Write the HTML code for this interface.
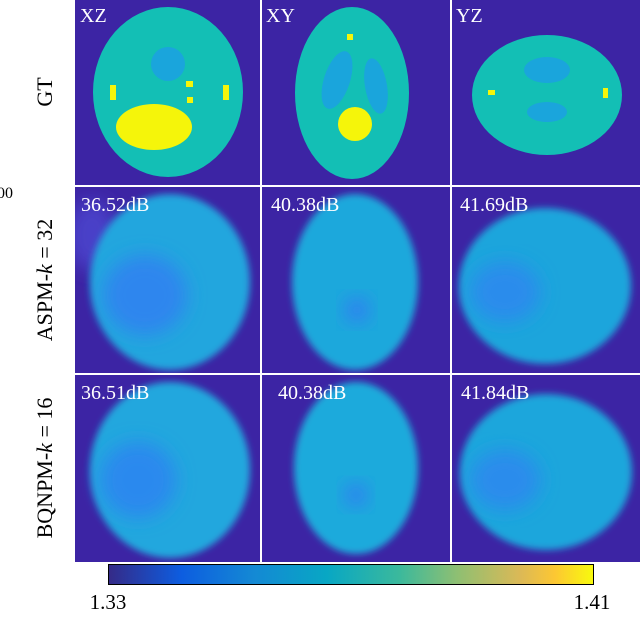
<!DOCTYPE html>
<html><head><meta charset="utf-8"><style>
html,body{margin:0;padding:0;background:#fff;}
svg, svg text{font-family:"Liberation Serif","DejaVu Serif",serif;}
</style></head><body>
<svg width="640" height="612" viewBox="0 0 640 612" font-family="Liberation Serif, serif">
<defs>
<filter id="b1" x="-30%" y="-30%" width="160%" height="160%"><feGaussianBlur stdDeviation="3.5"/></filter>
<filter id="b2" x="-30%" y="-30%" width="160%" height="160%"><feGaussianBlur stdDeviation="9"/></filter>
<linearGradient id="parula" x1="0" x2="1" y1="0" y2="0">
<stop offset="0" stop-color="#352a87"/><stop offset="0.15" stop-color="#0d5de0"/>
<stop offset="0.3" stop-color="#1489d4"/><stop offset="0.45" stop-color="#08a7c4"/>
<stop offset="0.6" stop-color="#3bb99c"/><stop offset="0.72" stop-color="#8fbf72"/>
<stop offset="0.85" stop-color="#dcb956"/><stop offset="0.92" stop-color="#fcc733"/>
<stop offset="1" stop-color="#f8fa0d"/></linearGradient>
<clipPath id="c1"><rect x="75" y="187" width="185" height="186"/></clipPath>
<clipPath id="c2"><rect x="262" y="187" width="188" height="186"/></clipPath>
<clipPath id="c3"><rect x="452" y="187" width="188" height="186"/></clipPath>
<clipPath id="c4"><rect x="75" y="375" width="185" height="187"/></clipPath>
<clipPath id="c5"><rect x="262" y="375" width="188" height="187"/></clipPath>
<clipPath id="c6"><rect x="452" y="375" width="188" height="187"/></clipPath>
</defs>
<rect x="75" y="0" width="565" height="562" fill="#3c24a4"/>
<g>
<ellipse cx="168" cy="92" rx="75" ry="85" fill="#13bfb5"/>
<circle cx="168" cy="64" r="17" fill="#1aa5dc"/>
<ellipse cx="154" cy="127" rx="38" ry="23" fill="#f5f50a"/>
<rect x="110" y="85" width="6" height="15" fill="#f5f50a"/><rect x="223" y="85" width="6" height="15" fill="#f5f50a"/>
<rect x="186" y="81" width="7" height="6" fill="#f5f50a"/><rect x="187" y="97" width="6" height="6" fill="#f5f50a"/>
</g>
<g>
<ellipse cx="352" cy="93" rx="57" ry="86" fill="#13bfb5"/>
<ellipse cx="337" cy="80" rx="13" ry="30" transform="rotate(18 337 80)" fill="#1aa5dc"/>
<ellipse cx="376" cy="86" rx="11" ry="28" transform="rotate(-10 376 86)" fill="#1aa5dc"/>
<circle cx="355" cy="124" r="17" fill="#f5f50a"/>
<rect x="347" y="34" width="6" height="6" fill="#f5f50a"/>
</g>
<g>
<ellipse cx="547" cy="95" rx="75" ry="60" fill="#13bfb5"/>
<ellipse cx="547" cy="70" rx="23" ry="13" fill="#1aa5dc"/>
<ellipse cx="547" cy="112" rx="20" ry="10" fill="#1aa5dc"/>
<rect x="488" y="90" width="7" height="5" fill="#f5f50a"/><rect x="603" y="88" width="5" height="10" fill="#f5f50a"/>
</g>
<g clip-path="url(#c1)">
<g filter="url(#b2)"><ellipse cx="92" cy="235" rx="25" ry="35" fill="#4a40c8"/></g>
<g filter="url(#b1)"><ellipse cx="170" cy="282" rx="80" ry="88" fill="#22a6de"/></g>
<g filter="url(#b2)"><ellipse cx="145" cy="295" rx="42" ry="40" fill="#2d86ee"/></g>
</g>
<g clip-path="url(#c2)">
<g filter="url(#b1)"><ellipse cx="355" cy="282" rx="63" ry="88" fill="#1ea8dc"/></g>
<g filter="url(#b2)"><circle cx="357" cy="310" r="13" fill="#2f82f0"/></g>
</g>
<g clip-path="url(#c3)">
<g filter="url(#b1)"><ellipse cx="545" cy="286" rx="86" ry="78" fill="#1ea5dc"/></g>
<g filter="url(#b2)"><ellipse cx="505" cy="292" rx="35" ry="30" fill="#2a8cec"/></g>
</g>
<g clip-path="url(#c4)">
<g filter="url(#b1)"><ellipse cx="170" cy="470" rx="80" ry="88" fill="#22a7de"/></g>
<g filter="url(#b2)"><ellipse cx="138" cy="480" rx="38" ry="38" fill="#2b89ee"/></g>
</g>
<g clip-path="url(#c5)">
<g filter="url(#b1)"><ellipse cx="356" cy="468" rx="62" ry="86" fill="#1eaadc"/></g>
<g filter="url(#b2)"><circle cx="356" cy="495" r="12" fill="#2f82f0"/></g>
</g>
<g clip-path="url(#c6)">
<g filter="url(#b1)"><ellipse cx="546" cy="472" rx="86" ry="78" fill="#1fa6dc"/></g>
<g filter="url(#b2)"><ellipse cx="505" cy="480" rx="35" ry="30" fill="#2a8cec"/></g>
</g>
<g fill="#ffffff">
<rect x="260" y="0" width="2" height="562"/><rect x="450" y="0" width="2" height="562"/>
<rect x="75" y="185" width="565" height="2"/><rect x="75" y="373" width="565" height="2"/>
</g>
<g fill="#fff" font-size="20" font-family="Liberation Serif, serif">
<text x="80" y="22">XZ</text><text x="266" y="22">XY</text><text x="456" y="22">YZ</text>
<text x="81" y="211">36.52dB</text>
<text x="271" y="211">40.38dB</text>
<text x="460" y="211">41.69dB</text>
<text x="81" y="399">36.51dB</text>
<text x="278" y="399">40.38dB</text>
<text x="461" y="399">41.84dB</text>
</g>
<g font-size="22" fill="#000" text-anchor="middle" font-family="Liberation Serif, serif">
<text transform="translate(52 92) rotate(-90)">GT</text>
<text transform="translate(52 280) rotate(-90)">ASPM-<tspan font-style="italic">k</tspan> = 32</text>
<text transform="translate(52 468) rotate(-90)">BQNPM-<tspan font-style="italic">k</tspan> = 16</text>
</g>
<text x="-3" y="198" font-size="16" font-family="Liberation Serif, serif">00</text>
<rect x="108.5" y="564.5" width="485" height="20" fill="url(#parula)" stroke="#000" stroke-width="1"/>
<text x="108" y="609" font-size="21" text-anchor="middle" font-family="Liberation Serif, serif">1.33</text>
<text x="592" y="609" font-size="21" text-anchor="middle" font-family="Liberation Serif, serif">1.41</text>
</svg>
</body></html>
